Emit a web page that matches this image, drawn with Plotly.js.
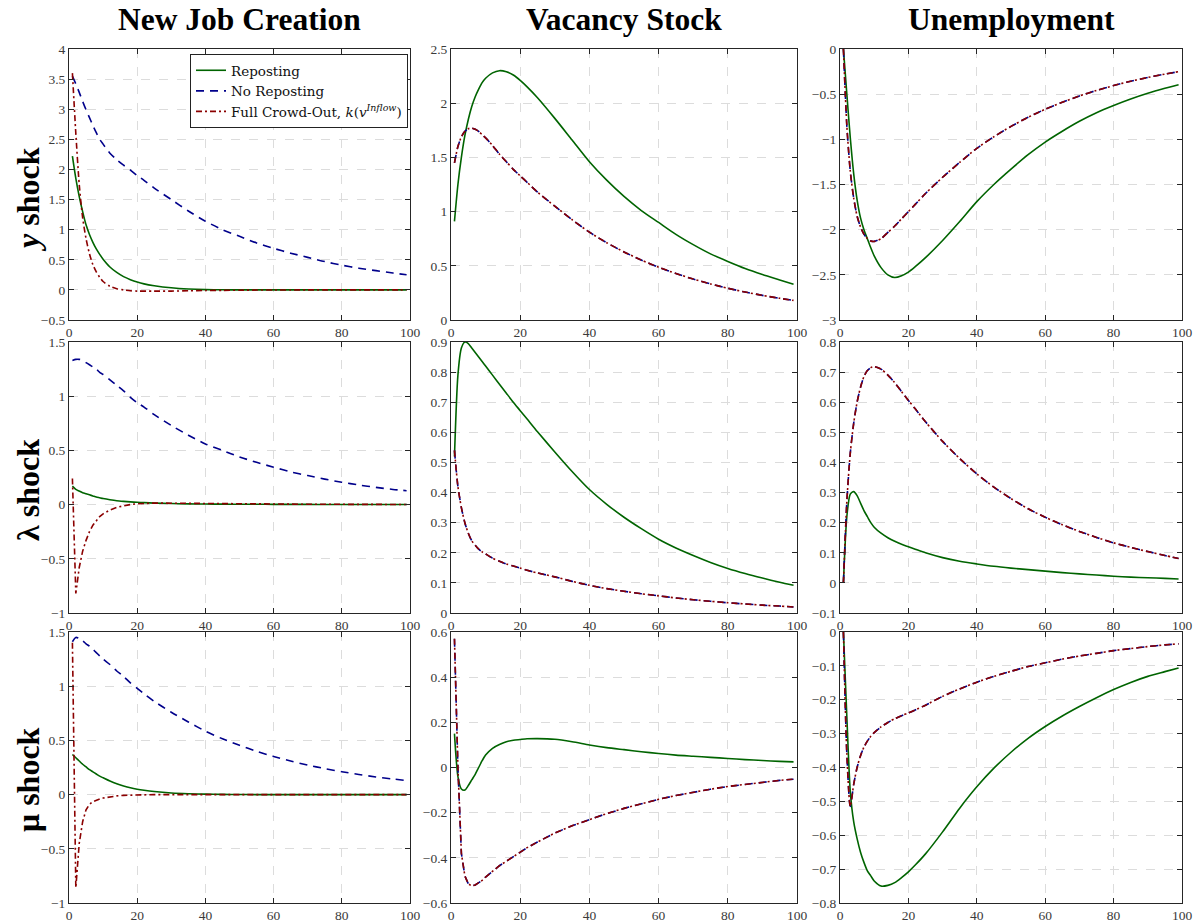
<!DOCTYPE html>
<html>
<head>
<meta charset="utf-8">
<script src="https://cdn.plot.ly/plotly-3.0.1.min.js"></script>
<style>html,body{margin:0;padding:0;background:#fff;}#chart{width:1201px;height:923px;}</style>
</head>
<body>
<div id="chart"></div>
<script>
// ---------- DATA ----------
const periods = [1,2,3,4,5,6,7,8,9,10,12,14,16,18,20,22,25,30,35,40,45,50,55,60,65,70,75,80,85,90,95,99];

const columnTitles = ["New Job Creation", "Vacancy Stock", "Unemployment"];
const rowTitles = ["<i>y</i> shock", "λ shock", "μ shock"];
const seriesNames = ["Reposting", "No Reposting", "Full Crowd-Out, <i>k</i>(<i>v</i><sup><i>Inflow</i></sup>)"];

// y shock
const jobY_rep   = [2.22,1.85,1.55,1.3,1.08,0.92,0.79,0.68,0.59,0.51,0.38,0.29,0.22,0.17,0.13,0.1,0.07,0.035,0.015,0.005,0.002,0,0,0,0,0,0,0,0,0,0,0];
const jobY_norep = [3.55,3.42,3.28,3.13,2.99,2.86,2.73,2.61,2.5,2.42,2.27,2.16,2.07,1.99,1.9,1.82,1.69,1.5,1.31,1.14,1.0,0.89,0.78,0.69,0.61,0.54,0.47,0.41,0.36,0.32,0.28,0.25];
const jobY_crowd = [3.6,2.6,1.75,1.2,0.85,0.6,0.42,0.3,0.21,0.14,0.06,0.02,0.0,-0.015,-0.02,-0.02,-0.02,-0.02,-0.015,-0.01,-0.008,-0.005,-0.003,-0.002,-0.001,0,0,0,0,0,0,0];
const vacY_rep   = [0.91,1.25,1.5,1.7,1.85,1.97,2.06,2.13,2.19,2.23,2.28,2.3,2.29,2.26,2.21,2.15,2.05,1.86,1.66,1.46,1.29,1.14,1.01,0.9,0.79,0.695,0.61,0.54,0.475,0.42,0.37,0.33];
const vacY_crowd = [1.45,1.6,1.69,1.74,1.765,1.77,1.76,1.74,1.71,1.68,1.61,1.53,1.46,1.39,1.33,1.27,1.18,1.05,0.925,0.81,0.713,0.628,0.553,0.487,0.429,0.378,0.333,0.293,0.258,0.227,0.2,0.181];
const vacY_norep = [1.45,1.6,1.69,1.74,1.765,1.77,1.76,1.74,1.71,1.68,1.61,1.53,1.46,1.39,1.33,1.27,1.18,1.05,0.925,0.81,0.713,0.628,0.553,0.487,0.429,0.378,0.333,0.293,0.258,0.227,0.2,0.181];
const unY_rep    = [0,-0.5,-0.98,-1.38,-1.67,-1.87,-2.0,-2.1,-2.2,-2.29,-2.42,-2.5,-2.53,-2.51,-2.47,-2.41,-2.31,-2.12,-1.91,-1.69,-1.5,-1.33,-1.17,-1.03,-0.91,-0.8,-0.705,-0.625,-0.553,-0.49,-0.435,-0.395];
const unY_crowd  = [0,-0.85,-1.35,-1.65,-1.85,-1.97,-2.05,-2.1,-2.125,-2.13,-2.1,-2.03,-1.96,-1.88,-1.8,-1.72,-1.6,-1.42,-1.255,-1.1,-0.971,-0.857,-0.756,-0.667,-0.589,-0.52,-0.459,-0.405,-0.357,-0.315,-0.278,-0.251];
const unY_norep  = [0,-0.85,-1.35,-1.65,-1.85,-1.97,-2.05,-2.1,-2.125,-2.13,-2.1,-2.03,-1.96,-1.88,-1.8,-1.72,-1.6,-1.42,-1.255,-1.1,-0.971,-0.857,-0.756,-0.667,-0.589,-0.52,-0.459,-0.405,-0.357,-0.315,-0.278,-0.251];

// lambda shock
const jobL_rep   = [0.17,0.14,0.125,0.11,0.1,0.09,0.08,0.07,0.063,0.056,0.045,0.036,0.03,0.025,0.021,0.018,0.014,0.01,0.007,0.005,0.004,0.003,0.003,0.002,0.002,0.002,0.001,0.001,0.001,0.001,0.001,0.001];
const jobL_norep = [1.33,1.34,1.34,1.33,1.31,1.29,1.27,1.25,1.22,1.2,1.15,1.1,1.05,0.99,0.94,0.9,0.83,0.73,0.64,0.56,0.5,0.44,0.39,0.345,0.302,0.268,0.235,0.206,0.181,0.159,0.14,0.128];
const jobL_crowd = [0.24,-0.82,-0.58,-0.43,-0.33,-0.25,-0.19,-0.15,-0.11,-0.085,-0.05,-0.025,-0.01,0.0,0.008,0.012,0.014,0.013,0.011,0.009,0.008,0.007,0.006,0.005,0.004,0.003,0.003,0.002,0.002,0.001,0.001,0.001];
const vacL_rep   = [0.52,0.79,0.88,0.9,0.895,0.88,0.865,0.85,0.835,0.82,0.79,0.76,0.73,0.7,0.672,0.644,0.602,0.535,0.47,0.41,0.361,0.318,0.28,0.245,0.216,0.191,0.168,0.148,0.131,0.116,0.102,0.092];
const vacL_crowd = [0.54,0.42,0.35,0.3,0.265,0.24,0.225,0.212,0.203,0.196,0.182,0.172,0.163,0.156,0.149,0.142,0.133,0.12,0.105,0.092,0.081,0.072,0.064,0.057,0.05,0.044,0.039,0.034,0.03,0.026,0.023,0.02];
const vacL_norep = [0.54,0.42,0.35,0.3,0.265,0.24,0.225,0.212,0.203,0.196,0.182,0.172,0.163,0.156,0.149,0.142,0.133,0.12,0.105,0.092,0.081,0.072,0.064,0.057,0.05,0.044,0.039,0.034,0.03,0.026,0.023,0.02];
const unL_rep    = [0,0.22,0.295,0.303,0.29,0.265,0.24,0.22,0.2,0.185,0.165,0.15,0.138,0.128,0.12,0.112,0.1,0.084,0.072,0.063,0.055,0.049,0.044,0.039,0.034,0.03,0.026,0.022,0.019,0.017,0.015,0.013];
const unL_crowd  = [0,0.27,0.43,0.53,0.6,0.65,0.685,0.705,0.715,0.718,0.71,0.69,0.665,0.635,0.606,0.578,0.535,0.47,0.413,0.362,0.318,0.28,0.246,0.218,0.193,0.171,0.151,0.133,0.118,0.104,0.091,0.081];
const unL_norep  = [0,0.27,0.43,0.53,0.6,0.65,0.685,0.705,0.715,0.718,0.71,0.69,0.665,0.635,0.606,0.578,0.535,0.47,0.413,0.362,0.318,0.28,0.246,0.218,0.193,0.171,0.151,0.133,0.118,0.104,0.091,0.081];

// mu shock
const jobM_rep   = [0.37,0.34,0.31,0.28,0.255,0.23,0.21,0.19,0.17,0.155,0.125,0.1,0.08,0.063,0.05,0.04,0.028,0.015,0.008,0.004,0.002,0.001,0,0,0,0,0,0,0,0,0,0];
const jobM_norep = [1.41,1.45,1.44,1.42,1.39,1.37,1.34,1.31,1.28,1.25,1.2,1.14,1.09,1.03,0.98,0.93,0.86,0.76,0.67,0.585,0.515,0.455,0.4,0.352,0.31,0.272,0.24,0.211,0.186,0.163,0.144,0.13];
const jobM_crowd = [1.4,-0.86,-0.45,-0.25,-0.14,-0.09,-0.065,-0.05,-0.04,-0.032,-0.02,-0.012,-0.007,-0.004,-0.002,-0.001,0,0,0,0,0,0,0,0,0,0,0,0,0,0,0,0];
const vacM_rep   = [0.15,-0.04,-0.095,-0.1,-0.08,-0.055,-0.03,0.0,0.03,0.055,0.085,0.102,0.114,0.121,0.124,0.127,0.128,0.125,0.114,0.1,0.088,0.079,0.07,0.062,0.055,0.05,0.045,0.04,0.035,0.031,0.027,0.025];
const vacM_crowd = [0.57,0.0,-0.38,-0.48,-0.515,-0.525,-0.52,-0.51,-0.5,-0.485,-0.46,-0.435,-0.415,-0.395,-0.375,-0.355,-0.33,-0.29,-0.258,-0.23,-0.204,-0.181,-0.16,-0.141,-0.124,-0.109,-0.096,-0.084,-0.074,-0.065,-0.057,-0.052];
const vacM_norep = [0.57,0.0,-0.38,-0.48,-0.515,-0.525,-0.52,-0.51,-0.5,-0.485,-0.46,-0.435,-0.415,-0.395,-0.375,-0.355,-0.33,-0.29,-0.258,-0.23,-0.204,-0.181,-0.16,-0.141,-0.124,-0.109,-0.096,-0.084,-0.074,-0.065,-0.057,-0.052];
const unM_rep    = [0,-0.25,-0.47,-0.56,-0.61,-0.65,-0.68,-0.705,-0.72,-0.735,-0.75,-0.748,-0.74,-0.725,-0.708,-0.688,-0.655,-0.59,-0.52,-0.457,-0.402,-0.355,-0.314,-0.279,-0.248,-0.22,-0.194,-0.17,-0.149,-0.131,-0.117,-0.106];
const unM_crowd  = [0,-0.36,-0.515,-0.45,-0.4,-0.365,-0.34,-0.322,-0.308,-0.297,-0.28,-0.267,-0.256,-0.247,-0.239,-0.23,-0.216,-0.19,-0.168,-0.148,-0.131,-0.116,-0.102,-0.091,-0.08,-0.071,-0.063,-0.055,-0.049,-0.043,-0.038,-0.035];
const unM_norep  = [0,-0.36,-0.515,-0.45,-0.4,-0.365,-0.34,-0.322,-0.308,-0.297,-0.28,-0.267,-0.256,-0.247,-0.239,-0.23,-0.216,-0.19,-0.168,-0.148,-0.131,-0.116,-0.102,-0.091,-0.08,-0.071,-0.063,-0.055,-0.049,-0.043,-0.038,-0.035];

// axis ranges [min, max, step] per panel (row-major)
const yRanges = [[-0.5,4,0.5],[0,2.5,0.5],[-3,0,0.5],
                 [-1,1.5,0.5],[0,0.9,0.1],[-0.1,0.8,0.1],
                 [-1,1.5,0.5],[-0.6,0.6,0.2],[-0.8,0,0.1]];

const panels = [
  [jobY_rep, jobY_norep, jobY_crowd], [vacY_rep, vacY_norep, vacY_crowd], [unY_rep, unY_norep, unY_crowd],
  [jobL_rep, jobL_norep, jobL_crowd], [vacL_rep, vacL_norep, vacL_crowd], [unL_rep, unL_norep, unL_crowd],
  [jobM_rep, jobM_norep, jobM_crowd], [vacM_rep, vacM_norep, vacM_crowd], [unM_rep, unM_norep, unM_crowd]
];
// series with sharp spikes are drawn with straight segments, the rest smoothed
const sharpSeries = [jobL_crowd, jobM_crowd, vacM_crowd, vacM_norep];

// ---------- STYLE / LAYOUT ----------
const W = 1201, H = 923;
const colPx = [[69,410],[451,797],[840,1182]];
const rowPx = [[49,320],[342,613],[632,903]];
const lineStyles = [
  {color:'#006400', width:1.6, dash:'solid'},
  {color:'#00008B', width:1.6, dash:'8px,6px'},
  {color:'#8B0000', width:1.6, dash:'6px,3px,2px,3px'}
];
const serif = '"Liberation Serif", "Times New Roman", serif';
const legendSerif = '"DejaVu Serif", "Liberation Serif", serif';

const traces = [];
const layout = {
  width: W, height: H, autosize: false,
  margin: {l:0, r:0, t:0, b:0},
  paper_bgcolor: '#fff', plot_bgcolor: '#fff',
  font: {family: serif, color: '#333'},
  showlegend: true,
  legend: {
    x: 408/W, xanchor: 'right', y: 1 - 54/H, yanchor: 'top',
    bgcolor: '#fff', bordercolor: '#222', borderwidth: 1,
    font: {family: legendSerif, size: 13.5, color: '#111'},
    itemwidth: 30, tracegroupgap: 0
  },
  annotations: []
};

for (let r = 0; r < 3; r++) {
  for (let c = 0; c < 3; c++) {
    const i = r*3 + c;
    const ax = i === 0 ? '' : String(i+1);
    const [ymin, ymax, ystep] = yRanges[i];
    const axisCommon = {
      showline: true, linecolor: '#262626', linewidth: 1, mirror: 'allticks',
      ticks: 'inside', ticklen: 5, tickcolor: '#262626', tickwidth: 1,
      showgrid: true, gridcolor: '#dcdcdc', griddash: 'dash', gridwidth: 1,
      zeroline: false,
      tickfont: {family: serif, size: 13.5, color: '#3a3a3a'}
    };
    layout['xaxis'+ax] = Object.assign({}, axisCommon, {
      domain: [colPx[c][0]/W, colPx[c][1]/W],
      range: [0, 100], tick0: 0, dtick: 20,
      anchor: 'y'+ax
    });
    layout['yaxis'+ax] = Object.assign({}, axisCommon, {
      domain: [1 - rowPx[r][1]/H, 1 - rowPx[r][0]/H],
      range: [ymin, ymax], tick0: ymin, dtick: ystep,
      anchor: 'x'+ax
    });
    const data = panels[i];
    for (let s = 0; s < 3; s++) {
      const sharp = sharpSeries.includes(data[s]);
      traces.push({
        type: 'scatter', mode: 'lines',
        x: periods, y: data[s],
        xaxis: 'x'+ax, yaxis: 'y'+ax,
        name: seriesNames[s],
        legendgroup: 'g'+s,
        showlegend: i === 0,
        line: Object.assign({}, lineStyles[s], sharp ? {shape:'linear'} : {shape:'spline', smoothing:0.7}),
        hoverinfo: 'skip'
      });
    }
  }
}

// column titles
for (let c = 0; c < 3; c++) {
  layout.annotations.push({
    text: '<b>' + columnTitles[c] + '</b>', showarrow: false,
    xref: 'paper', yref: 'paper',
    x: (colPx[c][0] + colPx[c][1]) / 2 / W, y: 1 - 19/H,
    xanchor: 'center', yanchor: 'middle',
    font: {family: serif, size: 31.5, color: '#000'}
  });
}
// row titles
const rowLabelY = [200, 490, 780];
for (let r = 0; r < 3; r++) {
  layout.annotations.push({
    text: '<b>' + rowTitles[r] + '</b>', showarrow: false,
    xref: 'paper', yref: 'paper',
    x: 28/W, y: 1 - rowLabelY[r]/H,
    xanchor: 'center', yanchor: 'middle', textangle: -90,
    font: {family: serif, size: 32, color: '#000'}
  });
}

Plotly.newPlot('chart', traces, layout, {staticPlot: true, displayModeBar: false});
</script>
</body>
</html>
